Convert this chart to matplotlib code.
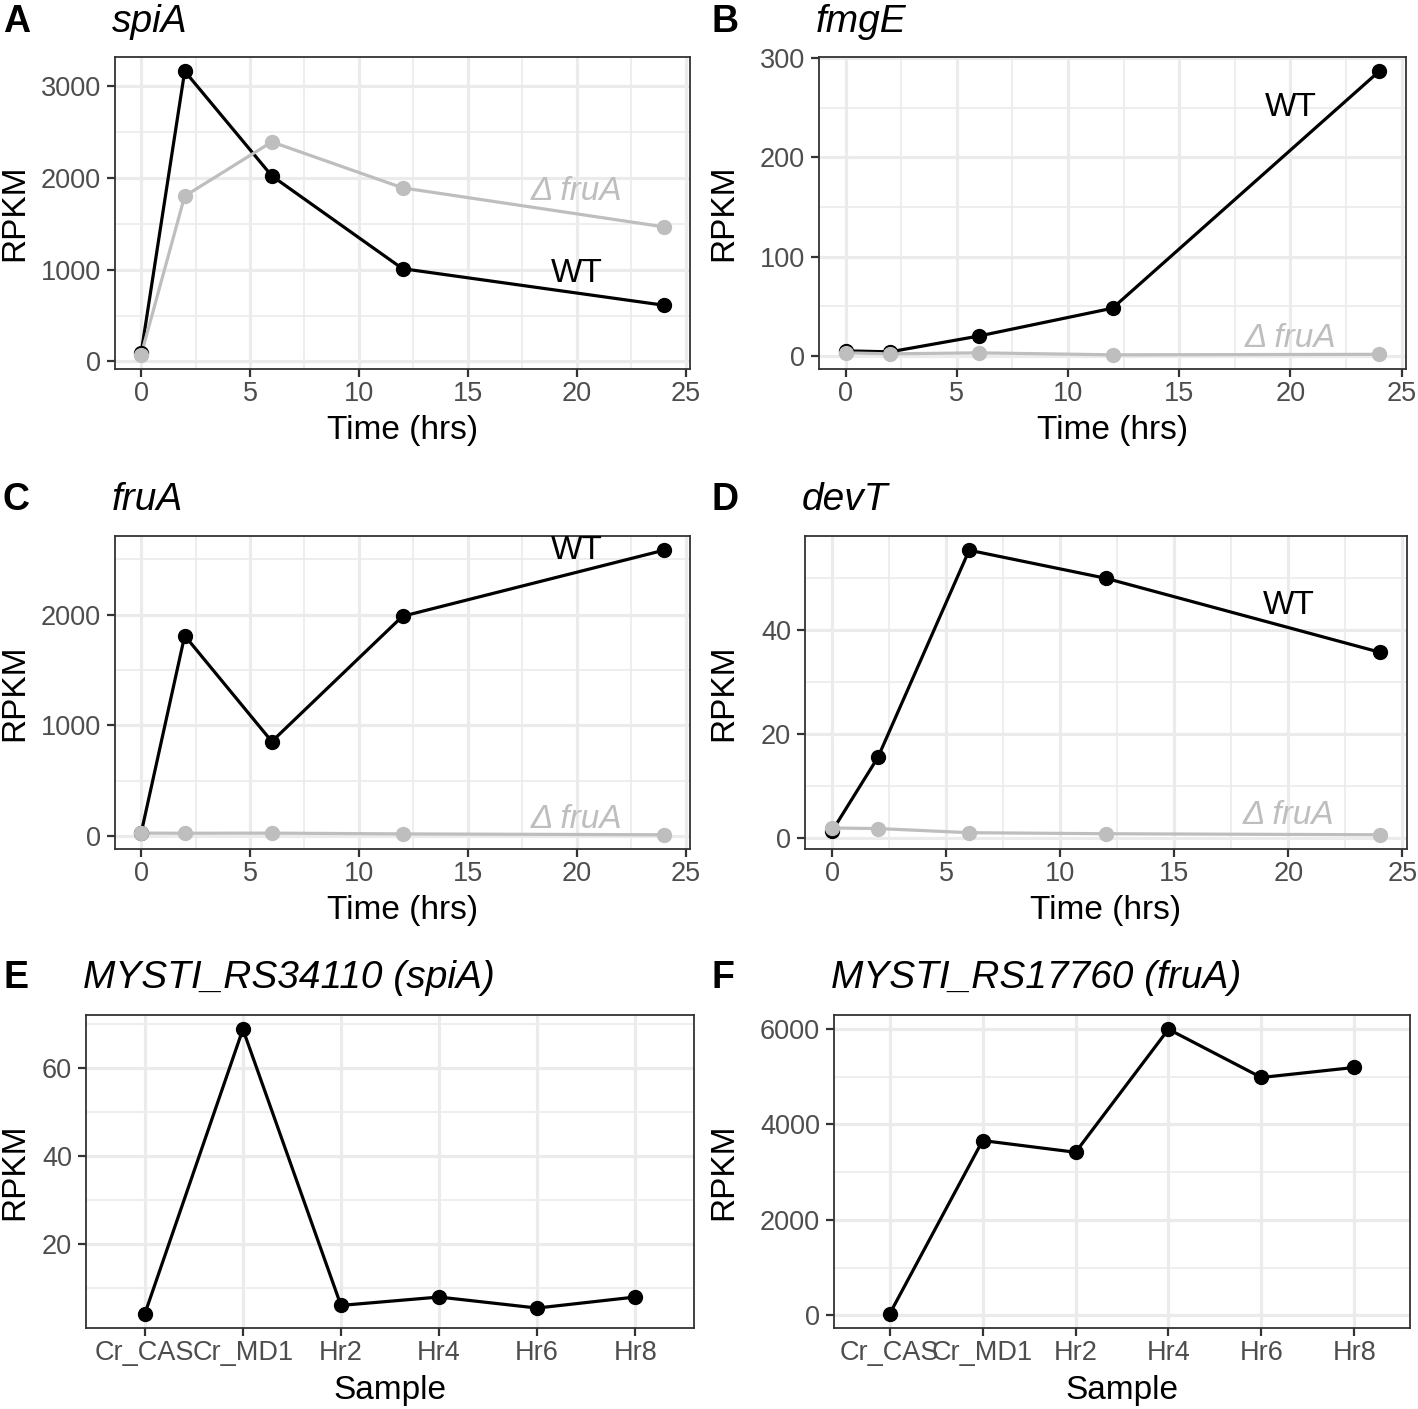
import matplotlib
matplotlib.use('Agg')
import matplotlib.pyplot as plt
from matplotlib.ticker import MultipleLocator, AutoMinorLocator

plt.rcParams['font.family'] = ['Liberation Sans', 'DejaVu Sans']

# data (RPKM)
hours = [0, 2, 6, 12, 24]
samples = ['Cr_CAS', 'Cr_MD1', 'Hr2', 'Hr4', 'Hr6', 'Hr8']

spiA_wt = [90, 3160, 2020, 1010, 612]
spiA_dfruA = [72, 1800, 2390, 1890, 1465]
fmgE_wt = [5, 4, 20, 48, 287]
fmgE_dfruA = [3, 2, 3, 1, 1.5]
fruA_wt = [25, 1810, 853, 1985, 2582]
fruA_dfruA = [25, 24, 25, 18, 10]
devT_wt = [1.4, 15.5, 55.3, 49.9, 35.7]
devT_dfruA = [1.9, 1.8, 1.0, 0.8, 0.6]
spiA_dev = [4.2, 68.8, 6.1, 8.0, 5.5, 8.0]
fruA_dev = [35, 3660, 3415, 5990, 4980, 5190]

W, H = 1418, 1409
WT_COL = 'black'
MUT_COL = '#BEBEBE'
TICK_COL = '#4D4D4D'
GRID_COL = '#EBEBEB'
BORDER_COL = '#333333'

fig = plt.figure(figsize=(W / 100, H / 100), dpi=100)
fig.patch.set_facecolor('white')


def add_panel(l, t, r, b):
    """panel box given in pixels (left, top, right, bottom)"""
    ax = fig.add_axes([l / W, 1 - b / H, (r - l) / W, (b - t) / H])
    ax.box_px = (l, t, r, b)
    return ax


def style(ax, ystep, xlabel, time_axis=True):
    l, t, r, b = ax.box_px
    for s in ax.spines.values():
        s.set_color(BORDER_COL)
        s.set_linewidth(1.3)
    ax.yaxis.set_major_locator(MultipleLocator(ystep))
    ax.yaxis.set_minor_locator(AutoMinorLocator(2))
    if time_axis:
        ax.xaxis.set_major_locator(MultipleLocator(5))
        ax.xaxis.set_minor_locator(AutoMinorLocator(2))
    ax.grid(which='major', color=GRID_COL, linewidth=2.3)
    ax.grid(which='minor', color=GRID_COL, linewidth=1.2)
    ax.set_axisbelow(True)
    ax.tick_params(which='major', length=5.5, width=1.6, color=BORDER_COL,
                   labelsize=19.5, labelcolor=TICK_COL)
    ax.tick_params(axis='y', pad=4.5)
    ax.tick_params(axis='x', pad=3)
    ax.tick_params(which='minor', length=0)

    ax.set_ylabel('RPKM', fontsize=24)
    ax.yaxis.label.set_verticalalignment('center')
    # y title sits at a fixed distance from the cell edge, like ggplot
    cell_left = 0 if l < 700 else 709
    ax.yaxis.set_label_coords((cell_left + 15 - l) / (r - l), 0.5)

    ax.set_xlabel(xlabel, fontsize=24)
    ax.xaxis.label.set_verticalalignment('center')
    ax.xaxis.set_label_coords(0.5, (b - (b + 62)) / (b - t))


def draw(ax, x, series):
    for y, c in series:
        ax.plot(x, y, color=c, linewidth=2.3, zorder=2)
    for y, c in series:
        ax.plot(x, y, 'o', color=c, markersize=10, linestyle='none', zorder=3)


def heading(ax, letter, title, baseline):
    l = ax.box_px[0]
    cell_left = 0 if l < 700 else 709
    fig.text((cell_left + 3) / W, 1 - baseline / H, letter, fontsize=27,
             fontweight='bold', va='baseline', ha='left')
    fig.text((l - 3) / W, 1 - baseline / H, title, fontsize=28, style='italic',
             va='baseline', ha='left')


def label(ax, x, y, text, color, italic=False):
    ax.text(x, y, text, color=color, fontsize=24, ha='center', va='center',
            style='italic' if italic else 'normal', zorder=4)


# A: spiA
axA = add_panel(115, 57, 690, 369)
draw(axA, hours, [(spiA_wt, WT_COL), (spiA_dfruA, MUT_COL)])
style(axA, 1000, 'Time (hrs)')
label(axA, 20, 1850, 'Δ fruA', MUT_COL, italic=True)
label(axA, 20, 960, 'WT', WT_COL)
heading(axA, 'A', 'spiA', 32)

# B: fmgE
axB = add_panel(819, 57, 1406, 369)
draw(axB, hours, [(fmgE_wt, WT_COL), (fmgE_dfruA, MUT_COL)])
style(axB, 100, 'Time (hrs)')
label(axB, 20, 250, 'WT', WT_COL)
label(axB, 20, 17, 'Δ fruA', MUT_COL, italic=True)
heading(axB, 'B', 'fmgE', 32)

# C: fruA
axC = add_panel(115, 536, 690, 849)
draw(axC, hours, [(fruA_wt, WT_COL), (fruA_dfruA, MUT_COL)])
style(axC, 1000, 'Time (hrs)')
label(axC, 20, 2580, 'WT', WT_COL)
label(axC, 20, 150, 'Δ fruA', MUT_COL, italic=True)
heading(axC, 'C', 'fruA', 510)

# D: devT
axD = add_panel(805, 536, 1407, 849)
draw(axD, hours, [(devT_wt, WT_COL), (devT_dfruA, MUT_COL)])
style(axD, 20, 'Time (hrs)')
label(axD, 20, 44.7, 'WT', WT_COL)
label(axD, 20, 4.4, 'Δ fruA', MUT_COL, italic=True)
heading(axD, 'D', 'devT', 510)

# E: MYSTI_RS34110 (spiA)
axE = add_panel(86, 1015, 694, 1328)
draw(axE, samples, [(spiA_dev, WT_COL)])
axE.set_xlim(-0.6, len(samples) - 0.4)
style(axE, 20, 'Sample', time_axis=False)
heading(axE, 'E', 'MYSTI_RS34110 (spiA)', 988)

# F: MYSTI_RS17760 (fruA)
axF = add_panel(834, 1015, 1410, 1328)
draw(axF, samples, [(fruA_dev, WT_COL)])
axF.set_xlim(-0.6, len(samples) - 0.4)
style(axF, 2000, 'Sample', time_axis=False)
heading(axF, 'F', 'MYSTI_RS17760 (fruA)', 988)

fig.savefig('out.png', dpi=100, facecolor='white')
